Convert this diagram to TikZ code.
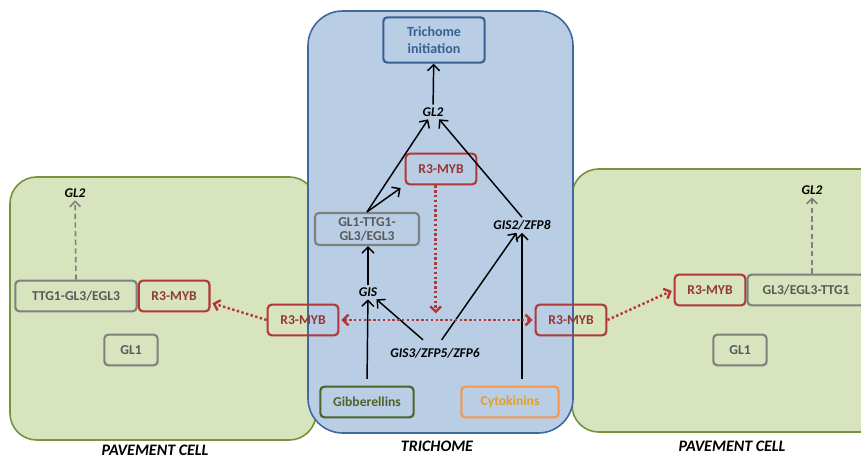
\documentclass[tikz,border=0pt]{standalone}
\usepackage{fontspec}
\setmainfont{Carlito}
\usetikzlibrary{arrows.meta, positioning}
\definecolor{cellgreen}{RGB}{215,228,189}
\definecolor{cellline}{RGB}{119,147,60}
\definecolor{trichblue}{RGB}{185,205,229}
\definecolor{trichline}{RGB}{62,106,160}
\definecolor{mybred}{RGB}{176,56,54}
\definecolor{mybtext}{RGB}{149,55,53}
\definecolor{boxgray}{RGB}{128,128,128}
\definecolor{textgray}{RGB}{89,89,89}
\definecolor{initblue}{RGB}{55,96,146}
\definecolor{gibgreen}{RGB}{79,98,40}
\definecolor{cytline}{RGB}{247,150,70}
\definecolor{cyttext}{RGB}{224,160,40}
\tikzstyle{cell} = [rounded corners=20pt, line width=1.2pt, draw=cellline, fill=cellgreen]
\tikzstyle{trich} = [rounded corners=26pt, line width=1.2pt, draw=trichline, fill=trichblue]
\tikzstyle{boxa} = [rectangle, rounded corners=3pt, line width=1.6pt, minimum height=23pt, inner sep=2pt, align=center, font=\fontsize{10.2}{10.5}\selectfont\bfseries]
\tikzstyle{myb} = [boxa, draw=mybred, text=mybtext, minimum width=53pt]
\tikzstyle{complex} = [boxa, draw=boxgray, text=textgray]
\tikzstyle{hormone} = [boxa, minimum width=70pt]
\tikzstyle{gene} = [font=\fontsize{10}{11}\selectfont\bfseries\itshape, inner sep=2pt]
\tikzstyle{cellname} = [font=\fontsize{12}{13}\selectfont\bfseries\itshape]
\tikzstyle{arrow} = [line width=1.1pt, -{Straight Barb[length=4.5pt,width=9pt]}]
\tikzstyle{repress} = [line width=1.8pt, mybred, dash pattern=on 1.8pt off 1.8pt, -{Straight Barb[length=4pt,width=8pt]}, shorten >=1.5pt]
\tikzstyle{repressboth} = [repress, {Straight Barb[length=4pt,width=8pt]}-{Straight Barb[length=4pt,width=8pt]}, shorten <=1.5pt]
\tikzstyle{dashline} = [line width=1.2pt, boxgray, dash pattern=on 4pt off 2.5pt, -{Straight Barb[length=4pt,width=8pt]}]
\begin{document}
\begin{tikzpicture}[x=0.75pt, y=-0.75pt, node distance=0pt]
\useasboundingbox (0,0) rectangle (861,459);
\clip (0,0) rectangle (861,459);
% cells
\draw [cell] (10,177) rectangle (316,440);
\draw [cell] (572,169) rectangle (900,432);
\draw [trich] (308,11) rectangle (573,433);

\node (init) [boxa, draw=initblue, text=initblue, minimum width=76pt, minimum height=34pt, font=\fontsize{10.5}{12.5}\selectfont\bfseries] at (434,40) {Trichome\\initiation};
\node (gltwo) [gene] at (433,112) {GL2};
\node (mybtop) [myb] at (441,169) {R3-MYB};
\node (complex) [complex, minimum width=78pt, minimum height=24pt] at (367,229) {GL1-TTG1-\\GL3/EGL3};
\node (gistwo) [gene] at (522,225) {GIS2/ZFP8};
\node (gis) [gene] at (368,292) {GIS};
\node (gisthree) [gene] at (435,353) {GIS3/ZFP5/ZFP6};
\node (gib) [hormone, draw=gibgreen, text=gibgreen] at (367,402) {Gibberellins};
\node (cyt) [hormone, draw=cytline, text=cyttext, minimum width=73pt] at (510,402) {Cytokinins};
\node (mybleft) [myb] at (303,320) {R3-MYB};
\node (mybright) [myb] at (571,320) {R3-MYB};
\node (trichname) [cellname] at (437,446) {TRICHOME};

\node (ttgl) [complex, minimum width=91pt] at (76,296) {TTG1-GL3/EGL3};
\node (myblc) [myb, right=of ttgl] {R3-MYB};
\node (glonel) [complex, minimum width=40pt] at (131,350) {GL1};
\node (gltwol) [gene] at (75,193) {GL2};
\node (pavl) [cellname] at (155,450) {PAVEMENT CELL};

\node (mybrc) [myb] at (710,290) {R3-MYB};
\node (ttgr) [complex, minimum width=88pt, right=of mybrc] {GL3/EGL3-TTG1};
\node (gloner) [complex, minimum width=40pt] at (740,350) {GL1};
\node (gltwor) [gene] at (812,190) {GL2};
\node (pavr) [cellname] at (732,446) {PAVEMENT CELL};

\draw [arrow] (gltwo) -- (init);
\draw [arrow] (complex.north) -- (gltwo);
\draw [arrow] (complex.north) -- ([xshift=-3pt,yshift=-2pt]mybtop.south west);
\draw [arrow] (gistwo.north) -- (gltwo);
\draw [arrow] (gis) -- (gis |- complex.south);
\draw [arrow, shorten <=5pt] (gib.north) -- (gis);
\draw [arrow] ([xshift=-9pt,yshift=4pt]gisthree.north) -- (gis);
\draw [arrow] ([xshift=5pt,yshift=4pt]gisthree.north) -- (gistwo);
\draw [arrow, shorten <=5pt] (cyt.north -| gistwo) -- (gistwo);

\draw [repress, shorten >=5pt] ([xshift=-4pt]mybtop.south) -- ([xshift=-4pt]mybtop.south |- mybleft.east);
\draw [repressboth] (mybleft) -- (mybright);
\draw [repress] (mybleft.west) -- ([yshift=-5pt]myblc.east);
\draw [repress] (mybright.east) -- (mybrc.west);

\draw [dashline] (ttgl.north) -- (gltwol);
\draw [dashline] (gltwor |- ttgr.north) -- (gltwor);
\end{tikzpicture}
\end{document}
